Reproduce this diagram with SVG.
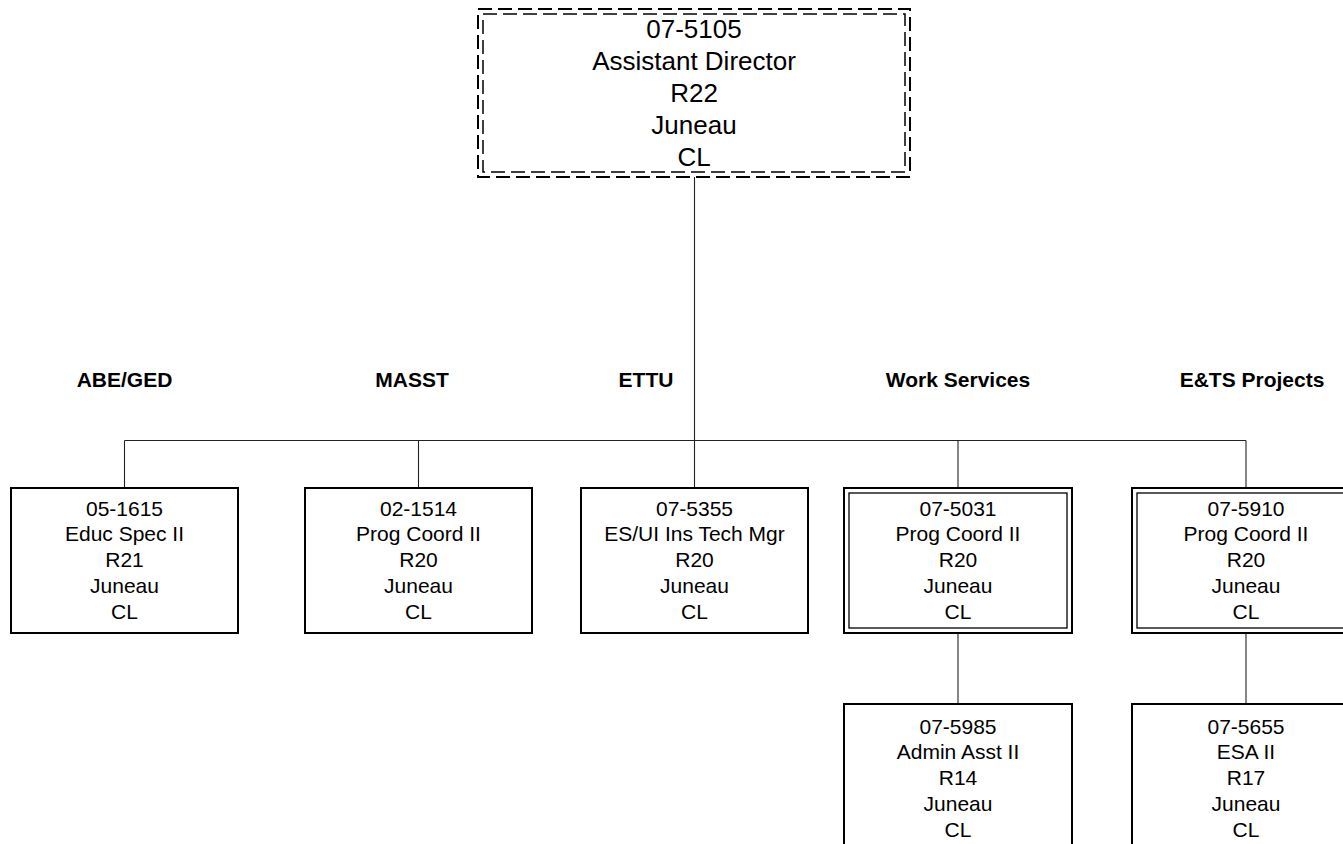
<svg xmlns="http://www.w3.org/2000/svg" width="1343" height="844" viewBox="0 0 1343 844">
<style>
.bg{fill:#fff}
.box{fill:#fff;stroke:#000;stroke-width:2}
.outer{fill:#fff;stroke:#000;stroke-width:2}
.inner{fill:none;stroke:#000;stroke-width:1.3}
.dash{fill:none;stroke:#000;stroke-width:2;stroke-dasharray:14 6}
.dash2{fill:none;stroke:#000;stroke-width:1.5;stroke-dasharray:14 6}
.conn{fill:none;stroke:#222;stroke-width:1.1}
text{font-family:"Liberation Sans",Arial,sans-serif;fill:#000}
.t{font-size:21px;text-anchor:middle}
.tt{font-size:26px;text-anchor:middle}
.h{font-size:21px;font-weight:bold;text-anchor:middle}
</style>
<rect class="bg" x="0" y="0" width="1343" height="844"/>
<g id="connectors">
<line class="conn" x1="694.5" y1="177" x2="694.5" y2="488"/>
<line class="conn" x1="124.5" y1="440.5" x2="1246" y2="440.5"/>
<line class="conn" x1="124.5" y1="440.5" x2="124.5" y2="488"/>
<line class="conn" x1="418.5" y1="440.5" x2="418.5" y2="488"/>
<line class="conn" x1="958" y1="440.5" x2="958" y2="488"/>
<line class="conn" x1="1246" y1="440.5" x2="1246" y2="488"/>
<line class="conn" x1="958" y1="633" x2="958" y2="704"/>
<line class="conn" x1="1246" y1="633" x2="1246" y2="704"/>
</g>
<g id="headers">
<text class="h" x="124.5" y="387">ABE/GED</text>
<text class="h" x="412" y="387">MASST</text>
<text class="h" x="646" y="387">ETTU</text>
<text class="h" x="958" y="387">Work Services</text>
<text class="h" x="1252" y="387">E&amp;TS Projects</text>
</g>
<g id="n07-5105">
<rect class="bg" x="478" y="9" width="432" height="168"/>
<rect class="dash" x="478" y="9" width="432" height="168"/>
<rect class="dash2" x="483" y="14" width="422" height="158"/>
<text class="tt" x="694" y="37.5">07-5105</text>
<text class="tt" x="694" y="69.5">Assistant Director</text>
<text class="tt" x="694" y="101.5">R22</text>
<text class="tt" x="694" y="133.5">Juneau</text>
<text class="tt" x="694" y="165.5">CL</text>
</g>
<g id="n05-1615">
<rect class="box" x="11" y="488" width="227" height="145"/>
<text class="t" x="124.5" y="515.5">05-1615</text>
<text class="t" x="124.5" y="541.3">Educ Spec II</text>
<text class="t" x="124.5" y="567.1">R21</text>
<text class="t" x="124.5" y="592.9">Juneau</text>
<text class="t" x="124.5" y="618.7">CL</text>
</g>
<g id="n02-1514">
<rect class="box" x="305" y="488" width="227" height="145"/>
<text class="t" x="418.5" y="515.5">02-1514</text>
<text class="t" x="418.5" y="541.3">Prog Coord II</text>
<text class="t" x="418.5" y="567.1">R20</text>
<text class="t" x="418.5" y="592.9">Juneau</text>
<text class="t" x="418.5" y="618.7">CL</text>
</g>
<g id="n07-5355">
<rect class="box" x="581" y="488" width="227" height="145"/>
<text class="t" x="694.5" y="515.5">07-5355</text>
<text class="t" x="694.5" y="541.3">ES/UI Ins Tech Mgr</text>
<text class="t" x="694.5" y="567.1">R20</text>
<text class="t" x="694.5" y="592.9">Juneau</text>
<text class="t" x="694.5" y="618.7">CL</text>
</g>
<g id="n07-5031">
<rect class="outer" x="844" y="488" width="228" height="145"/>
<rect class="inner" x="849" y="493" width="218" height="135"/>
<text class="t" x="958" y="515.5">07-5031</text>
<text class="t" x="958" y="541.3">Prog Coord II</text>
<text class="t" x="958" y="567.1">R20</text>
<text class="t" x="958" y="592.9">Juneau</text>
<text class="t" x="958" y="618.7">CL</text>
</g>
<g id="n07-5910">
<rect class="outer" x="1132" y="488" width="228" height="145"/>
<rect class="inner" x="1137" y="493" width="218" height="135"/>
<text class="t" x="1246" y="515.5">07-5910</text>
<text class="t" x="1246" y="541.3">Prog Coord II</text>
<text class="t" x="1246" y="567.1">R20</text>
<text class="t" x="1246" y="592.9">Juneau</text>
<text class="t" x="1246" y="618.7">CL</text>
</g>
<g id="n07-5985">
<rect class="box" x="844" y="704" width="228" height="150"/>
<text class="t" x="958" y="733.5">07-5985</text>
<text class="t" x="958" y="759.3">Admin Asst II</text>
<text class="t" x="958" y="785">R14</text>
<text class="t" x="958" y="810.8">Juneau</text>
<text class="t" x="958" y="836.6">CL</text>
</g>
<g id="n07-5655">
<rect class="box" x="1132" y="704" width="228" height="150"/>
<text class="t" x="1246" y="733.5">07-5655</text>
<text class="t" x="1246" y="759.3">ESA II</text>
<text class="t" x="1246" y="785">R17</text>
<text class="t" x="1246" y="810.8">Juneau</text>
<text class="t" x="1246" y="836.6">CL</text>
</g>
</svg>
